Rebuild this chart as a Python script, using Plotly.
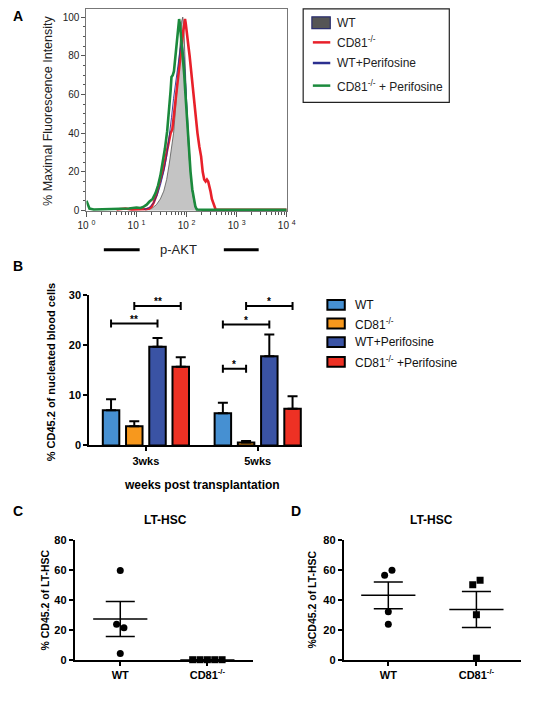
import plotly.graph_objects as go

W, H = 557, 706
FONT = "Arial, 'Liberation Sans', sans-serif"


def fx(x):
    return x / W


def fy(y):
    return 1 - y / H


# ---------------- Panel A : p-AKT histograms ----------------
hist_names = ["WT", "CD81<sup>-/-</sup>", "WT+Perifosine", "CD81<sup>-/-</sup> + Perifosine"]
hist_colors = ["#4a4a4a", "#e8202a", "#2b2f8f", "#1b8a3c"]

wt_int = [15, 20, 25, 30, 35, 40, 45, 50, 55, 60, 65, 70, 75, 80, 84, 88, 92, 96, 100, 105, 112, 120, 130, 140, 150, 165, 180]
wt_pct = [0.3, 1, 3, 6, 10, 16, 24, 32, 40, 52, 65, 78, 90, 98, 100, 95, 82, 65, 52, 40, 28, 18, 10, 5, 2, 0.5, 0.3]

ko_int = [4, 6, 8, 12, 16, 18, 20, 22, 25, 28, 32, 35, 40, 45, 48, 52, 55, 60, 63, 68, 72, 78, 82, 86, 90, 93, 96, 100,
          105, 110, 115, 120, 128, 135, 145, 155, 165, 180, 195, 210, 225, 240, 255, 270, 285, 300, 320, 340, 360, 380, 10000]
ko_pct = [0.5, 1, 0.5, 0.5, 0.8, 1, 2, 4, 8, 13, 18, 22, 30, 37, 40, 42, 48, 55, 60, 68, 75, 83, 88, 93, 96, 99, 97, 92,
          88, 84, 80, 75, 68, 62, 55, 48, 40, 33, 28, 20, 16, 15, 16, 15, 13, 10, 6, 4, 2, 0.5, 0.3]

wtp_int = [14, 18, 22, 26, 30, 35, 40, 45, 50, 55, 60, 65, 70, 75, 80, 85, 90, 95, 100, 106, 112, 120, 130, 140, 150, 160, 175]
wtp_pct = [0.5, 1.5, 4, 8, 13, 20, 28, 38, 48, 58, 66, 72, 78, 84, 88, 84, 78, 68, 56, 44, 32, 20, 10, 5, 2.5, 1, 0.3]

kop_int = [1.0, 1.06, 1.15, 1.4, 4, 7, 10, 12, 14, 16, 18, 21, 24, 27, 30, 33, 37, 41, 45, 48, 50, 53, 56, 60, 64, 68, 71,
           74, 78, 82, 86, 90, 95, 100, 105, 112, 120, 130, 140, 150, 160, 300, 10000]
kop_pct = [5, 3, 1, 0.5, 0.6, 1, 1.5, 1.3, 2, 3, 4.5, 6, 9, 13, 18, 24, 32, 41, 52, 62, 69, 70, 72, 80, 90, 97, 99,
           96, 90, 84, 78, 70, 60, 50, 40, 30, 20, 11, 5, 2, 0.5, 0.3, 0.3]

decade_ticks = [1, 10, 100, 1000, 10000]
decade_labels = ["10 <sup>0</sup>", "10 <sup>1</sup>", "10 <sup>2</sup>", "10 <sup>3</sup>", "10 <sup>4</sup>"]

# ---------------- Panel B : bar chart ----------------
weeks = ["3wks", "5wks"]
bar_names = ["WT", "CD81<sup>-/-</sup>", "WT+Perifosine", "CD81<sup>-/-</sup> +Perifosine"]
bar_colors = ["#4690d2", "#f7981d", "#3a53a4", "#ee3124"]
bar_values = [
    [7.0, 6.4],    # WT
    [3.8, 0.6],    # CD81-/-
    [19.7, 17.8],  # WT+Perifosine
    [15.7, 7.3],   # CD81-/- +Perifosine
]
bar_errors = [
    [2.2, 2.1],
    [1.0, 0.3],
    [1.7, 4.3],
    [1.9, 2.5],
]
# (week index, series a, series b, label, bracket height)
sig_pairs = [
    (0, 0, 2, "**", 24.3),
    (0, 1, 3, "**", 27.8),
    (1, 0, 1, "*", 15.3),
    (1, 0, 2, "*", 24.1),
    (1, 1, 3, "*", 27.8),
]

# ---------------- Panels C, D : LT-HSC scatter ----------------
hsc_groups = ["WT", "CD81<sup>-/-</sup>"]
c_wt = [59.5, 23.6, 21.3, 4.2]
c_ko = [0, 0, 0, 0, 0]
d_wt = [56.4, 59.7, 32.0, 23.6]
d_ko = [50.0, 53.0, 30.0, 1.0]

fig = go.Figure()

# ---- Panel A traces ----
hist_sets = [(wt_int, wt_pct), (ko_int, ko_pct), (wtp_int, wtp_pct), (kop_int, kop_pct)]
for i, (xs, ys) in enumerate(hist_sets):
    if i == 0:
        fig.add_trace(go.Scatter(x=xs, y=ys, mode="lines", fill="tozeroy", fillcolor="#c4c4c4",
                                 line=dict(color="#555555", width=0.8), xaxis="x", yaxis="y",
                                 showlegend=False, hoverinfo="skip"))
    elif i == 2:
        fig.add_trace(go.Scatter(x=xs, y=ys, mode="lines", line=dict(color=hist_colors[i], width=0.9),
                                 xaxis="x", yaxis="y", showlegend=False))
    else:
        fig.add_trace(go.Scatter(x=xs, y=ys, mode="lines", line=dict(color=hist_colors[i], width=2.6),
                                 xaxis="x", yaxis="y", showlegend=False))

# ---- Panel B traces ----
for i in range(4):
    fig.add_trace(go.Bar(
        x=[0, 1], y=bar_values[i], name=bar_names[i], xaxis="x2", yaxis="y2",
        marker=dict(color=bar_colors[i], line=dict(color="black", width=2)),
        error_y=dict(type="data", symmetric=False, array=bar_errors[i], arrayminus=[0, 0],
                     color="black", thickness=2, width=5),
        showlegend=False))

BARGAP = 0.169
slot = (1 - BARGAP) / 4
shapes = []
annotations = []
for wk, a, b, lab, h in sig_pairs:
    xa = wk + (a - 1.5) * slot
    xb = wk + (b - 1.5) * slot
    line = dict(color="black", width=2)
    shapes.append(dict(type="line", xref="x2", yref="y2", x0=xa, x1=xb, y0=h, y1=h, line=line))
    shapes.append(dict(type="line", xref="x2", yref="y2", x0=xa, x1=xa, y0=h - 0.8, y1=h + 0.8, line=line))
    shapes.append(dict(type="line", xref="x2", yref="y2", x0=xb, x1=xb, y0=h - 0.8, y1=h + 0.8, line=line))
    annotations.append(dict(xref="x2", yref="y2", x=(xa + xb) / 2, y=h, text="<b>" + lab + "</b>",
                            showarrow=False, yanchor="bottom", yshift=-3,
                            font=dict(family=FONT, size=10, color="black")))


# ---- Panels C, D traces ----
def swarm_offsets(vals, px_per_unit_y, px_per_unit_x, marker_px=7.0, spacing_px=7.6):
    order = sorted(range(len(vals)), key=lambda k: vals[k])
    clusters = []
    for k in order:
        if clusters and (vals[k] - vals[clusters[-1][-1]]) * px_per_unit_y < marker_px:
            clusters[-1].append(k)
        else:
            clusters.append([k])
    offs = [0.0] * len(vals)
    for cl in clusters:
        cl = sorted(cl)
        n = len(cl)
        for j, k in enumerate(cl):
            offs[k] = (j - (n - 1) / 2) * spacing_px / px_per_unit_x
    return offs


def mean_sem(v):
    n = len(v)
    m = sum(v) / n
    if n < 2:
        return m, 0
    var = sum((t - m) ** 2 for t in v) / (n - 1)
    return m, (var ** 0.5) / n ** 0.5


Y_PX = 122 / 80.0
panel_cd = [("x3", "y3", 90.0, [c_wt, c_ko]), ("x4", "y4", 91.0, [d_wt, d_ko])]
for xa, ya, xppu, groups in panel_cd:
    for gi, vals in enumerate(groups):
        offs = swarm_offsets(vals, Y_PX, xppu)
        fig.add_trace(go.Scatter(
            x=[gi + o for o in offs], y=vals, mode="markers", xaxis=xa, yaxis=ya,
            marker=dict(symbol="circle" if gi == 0 else "square", size=7, color="black"),
            cliponaxis=False, showlegend=False))
        m, s = mean_sem(vals)
        hw_mean = 28 / xppu
        hw_sem = 15 / xppu
        for xs, ys in [([gi - hw_mean, gi + hw_mean], [m, m]),
                       ([gi - hw_sem, gi + hw_sem], [m + s, m + s]),
                       ([gi - hw_sem, gi + hw_sem], [m - s, m - s]),
                       ([gi, gi], [m - s, m + s])]:
            fig.add_trace(go.Scatter(x=xs, y=ys, mode="lines", xaxis=xa, yaxis=ya,
                                     line=dict(color="black", width=1.5), cliponaxis=False,
                                     showlegend=False, hoverinfo="skip"))

# ---------------- Layout ----------------
minor_log = [m * d for d in [1, 10, 100, 1000] for m in range(2, 10)]
tickfont_a = dict(family=FONT, size=10, color="#222")
boldtick = dict(family=FONT, size=11, color="black")

layout = dict(
    width=W, height=H, margin=dict(l=0, r=0, t=0, b=0),
    paper_bgcolor="white", plot_bgcolor="white",
    barmode="group", bargap=BARGAP, bargroupgap=0.29,
    font=dict(family=FONT),
    xaxis=dict(domain=[fx(80), fx(287)], type="log", range=[0, 4], anchor="y",
               showline=True, linecolor="#777", linewidth=1, mirror=True, showgrid=False, zeroline=False,
               ticks="outside", ticklen=5, tickcolor="#555", tickvals=decade_ticks, ticktext=decade_labels,
               tickfont=tickfont_a,
               minor=dict(tickmode="array", tickvals=minor_log, ticks="outside", ticklen=3, tickcolor="#555")),
    yaxis=dict(domain=[fy(209), fy(3)], range=[-0.5, 104.2], anchor="x",
               showline=True, linecolor="#777", linewidth=1, mirror=True, showgrid=False, zeroline=False,
               ticks="outside", ticklen=4, tickcolor="#555", tickvals=[0, 20, 40, 60, 80, 100],
               tickfont=tickfont_a,
               minor=dict(dtick=5, ticks="outside", ticklen=2, tickcolor="#555")),
    xaxis2=dict(domain=[fx(83), fx(303)], range=[-0.506, 1.398], anchor="y2",
                showline=True, linecolor="black", linewidth=2, showgrid=False, zeroline=False,
                ticks="outside", ticklen=4, tickwidth=2, tickcolor="black",
                tickvals=[0, 1], ticktext=["<b>" + w + "</b>" for w in weeks], tickfont=boldtick),
    yaxis2=dict(domain=[fy(447), fy(294)], range=[0, 30], anchor="x2",
                showline=True, linecolor="black", linewidth=2, showgrid=False, zeroline=False,
                ticks="outside", ticklen=4, tickwidth=2, tickcolor="black",
                tickvals=[0, 10, 20, 30], ticktext=["<b>%d</b>" % v for v in [0, 10, 20, 30]], tickfont=boldtick),
    xaxis3=dict(domain=[fx(68), fx(252)], range=[-0.522, 1.522], anchor="y3",
                showline=True, linecolor="black", linewidth=2, showgrid=False, zeroline=False,
                ticks="outside", ticklen=4, tickwidth=2, tickcolor="black",
                tickvals=[0, 1], ticktext=["<b>" + g + "</b>" for g in hsc_groups], tickfont=boldtick),
    yaxis3=dict(domain=[fy(665), fy(543)], range=[0, 80], anchor="x3",
                showline=True, linecolor="black", linewidth=2, showgrid=False, zeroline=False,
                ticks="outside", ticklen=4, tickwidth=2, tickcolor="black",
                tickvals=[0, 20, 40, 60, 80], ticktext=["<b>%d</b>" % v for v in [0, 20, 40, 60, 80]],
                tickfont=boldtick),
    xaxis4=dict(domain=[fx(346), fx(529)], range=[-0.505, 1.505], anchor="y4",
                showline=True, linecolor="black", linewidth=2, showgrid=False, zeroline=False,
                ticks="outside", ticklen=4, tickwidth=2, tickcolor="black",
                tickvals=[0, 1], ticktext=["<b>" + g + "</b>" for g in hsc_groups], tickfont=boldtick),
    yaxis4=dict(domain=[fy(665), fy(543)], range=[0, 80], anchor="x4",
                showline=True, linecolor="black", linewidth=2, showgrid=False, zeroline=False,
                ticks="outside", ticklen=4, tickwidth=2, tickcolor="black",
                tickvals=[0, 20, 40, 60, 80], ticktext=["<b>%d</b>" % v for v in [0, 20, 40, 60, 80]],
                tickfont=boldtick),
)


def txt(x, y, text, size=11, bold=False, color="black", angle=0, xanchor="center", yanchor="middle"):
    t = "<b>%s</b>" % text if bold else text
    return dict(xref="paper", yref="paper", x=fx(x), y=fy(y), text=t, showarrow=False,
                xanchor=xanchor, yanchor=yanchor, textangle=angle,
                font=dict(family=FONT, size=size, color=color))


# panel letters
annotations += [
    txt(9, 10, "A", 14, True), txt(9, 264, "B", 14, True),
    txt(9, 514, "C", 14, True), txt(297, 514, "D", 14, True),
]
# panel A texts
annotations += [
    txt(40, 107, "% Maximal Fluorescence Intensity", 12.5, False, "#222", -90),
    txt(175, 248, "p-AKT", 13, False, "#222"),
]
shapes += [
    dict(type="line", xref="paper", yref="paper", x0=fx(98), x1=fx(135), y0=fy(248), y1=fy(248),
         line=dict(color="black", width=3)),
    dict(type="line", xref="paper", yref="paper", x0=fx(222), x1=fx(258), y0=fy(248), y1=fy(248),
         line=dict(color="black", width=3)),
]
# panel A legend
shapes.append(dict(type="rect", xref="paper", yref="paper", x0=fx(304), x1=fx(455), y0=fy(98), y1=fy(3),
                   line=dict(color="#222", width=1.2), fillcolor="rgba(0,0,0,0)"))
leg_a_y = [17, 37, 58, 81]
for i, name in enumerate(hist_names):
    yy = leg_a_y[i]
    if i == 0:
        shapes.append(dict(type="rect", xref="paper", yref="paper", x0=fx(313), x1=fx(332),
                           y0=fy(yy + 6), y1=fy(yy - 6), line=dict(color="#2b2f6f", width=1.2),
                           fillcolor="#555555"))
    else:
        shapes.append(dict(type="line", xref="paper", yref="paper", x0=fx(314), x1=fx(332),
                           y0=fy(yy), y1=fy(yy), line=dict(color=hist_colors[i], width=2.5)))
    annotations.append(txt(337, yy, name, 12, False, "#222", xanchor="left"))

# panel B texts
annotations += [
    txt(43, 372, "% CD45.2 of nucleated blood cells", 11, True, angle=-90),
    txt(199, 487, "weeks post transplantation", 12, True),
]
leg_b_y = [304, 323, 342, 362]
for i, name in enumerate(bar_names):
    yy = leg_b_y[i]
    shapes.append(dict(type="rect", xref="paper", yref="paper", x0=fx(329), x1=fx(347),
                       y0=fy(yy + 5), y1=fy(yy - 5), line=dict(color="black", width=2),
                       fillcolor=bar_colors[i]))
    annotations.append(txt(356, yy, name, 12, False, "#111", xanchor="left"))

# panels C, D texts
annotations += [
    txt(162, 523, "LT-HSC", 12, True),
    txt(437, 523, "LT-HSC", 12, True),
    txt(37, 604, "% CD45.2 of LT-HSC", 10.5, True, angle=-90),
    txt(313, 604, "%CD45.2 of LT-HSC", 10.5, True, angle=-90),
]

layout["shapes"] = shapes
layout["annotations"] = annotations
fig.update_layout(**layout)
# remove the default 8px body margin of the page so the figure sits at the window origin
fig.write_html("out.html", config={"displayModeBar": False},
               post_script="document.body.style.margin='0';")
